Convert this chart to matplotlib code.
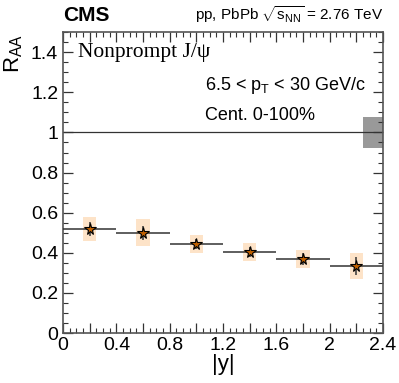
import numpy as np
import matplotlib.pyplot as plt
from matplotlib.patches import Rectangle
from matplotlib.ticker import MultipleLocator

# bin edges in |y| and measured R_AA
bin_lo = [0.0, 0.4, 0.8, 1.2, 1.6, 2.0]
bin_hi = [0.4, 0.8, 1.2, 1.6, 2.0, 2.4]
raa = [0.52, 0.50, 0.445, 0.405, 0.37, 0.335]
stat_err = [0.035, 0.036, 0.025, 0.024, 0.03, 0.045]
syst_err = [0.06, 0.067, 0.044, 0.046, 0.046, 0.066]
global_unc = 0.078

x_labels = ["0", "", "0.4", "", "0.8", "", "1.2", "", "1.6", "", "2", "", "2.4"]
y_ticks = [0, 0.2, 0.4, 0.6, 0.8, 1, 1.2, 1.4]
y_labels = ["0", "0.2", "0.4", "0.6", "0.8", "1", "1.2", "1.4"]

plt.rcParams['font.family'] = ['Liberation Sans', 'DejaVu Sans']
plt.rcParams['mathtext.fontset'] = 'custom'
plt.rcParams['mathtext.rm'] = 'Liberation Sans'
plt.rcParams['mathtext.it'] = 'Liberation Sans'

fig = plt.figure(figsize=(3.99, 3.83), dpi=100)
ax = fig.add_axes([0.158, 0.1305, 0.802, 0.7855])

centers = [(a + b) / 2 for a, b in zip(bin_lo, bin_hi)]
halfw = [(b - a) / 2 for a, b in zip(bin_lo, bin_hi)]

# systematic boxes
for xc, y, s in zip(centers, raa, syst_err):
    ax.add_patch(Rectangle((xc - 0.05, y - s), 0.1, 2 * s,
                           facecolor='#fde3c8', edgecolor='none', zorder=1))

# global uncertainty box
ax.add_patch(Rectangle((2.25, 1 - global_unc), 0.15, 2 * global_unc,
                       facecolor='#999999', edgecolor='none', zorder=1))

ax.axhline(1, color='#333333', lw=0.9, zorder=2)

ax.errorbar(centers, raa, xerr=halfw, yerr=stat_err, fmt='none',
            ecolor='#333333', elinewidth=1.1, capsize=0, zorder=3)
ax.plot(centers, raa, linestyle='none', marker='*', markersize=8.5,
        markerfacecolor='#c06000', markeredgecolor='black',
        markeredgewidth=0.8, zorder=4)

ax.set_xlim(0, 2.4)
ax.set_ylim(0, 1.5)

ax.set_xticks(np.arange(0, 2.41, 0.2))
ax.set_xticklabels(x_labels)
ax.xaxis.set_minor_locator(MultipleLocator(0.05))
ax.set_yticks(y_ticks)
ax.set_yticklabels(y_labels)
ax.yaxis.set_minor_locator(MultipleLocator(0.05))

ax.tick_params(which='both', direction='in', top=True, right=True,
               labelsize=14, color='#333333')
ax.tick_params(which='major', length=7, width=0.9)
ax.tick_params(which='minor', length=3.5, width=0.8)
ax.tick_params(axis='x', pad=3)
for sp in ax.spines.values():
    sp.set_color('#555555')
    sp.set_linewidth(1.2)

ax.set_xlabel("|y|", fontsize=16, labelpad=0)
ax.set_ylabel(r"R$_{\mathrm{AA}}$", fontsize=16, labelpad=4)
ax.yaxis.set_label_coords(-0.12, 0.93)

fig.text(0.158, 0.935, "CMS", fontsize=15, fontweight='bold', ha='left', va='bottom')
fig.text(0.96, 0.935, r"pp, PbPb $\sqrt{s_{\mathrm{NN}}}$ = 2.76 TeV",
         fontsize=11, ha='right', va='bottom')

ax.text(0.11, 1.4, "Nonprompt J/\u03c8", fontsize=15.5, va='center', ha='left',
        family=['Liberation Serif', 'DejaVu Serif'])
ax.text(1.065, 1.232, r"6.5 < p$_{\mathrm{T}}$ < 30 GeV/c", fontsize=13, va='center', ha='left')
ax.text(1.065, 1.085, "Cent. 0-100%", fontsize=13, va='center', ha='left')

fig.savefig("out.png", dpi=100)
